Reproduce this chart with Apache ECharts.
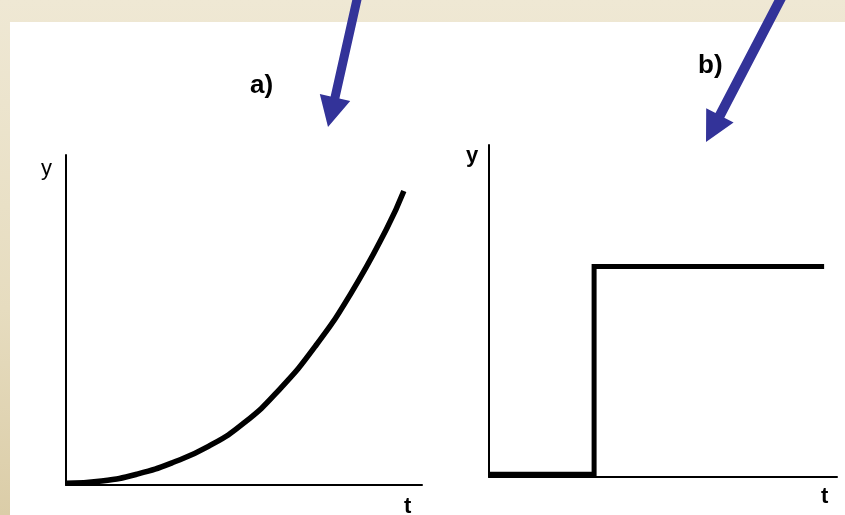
<!DOCTYPE html>
<html>
<head>
<meta charset="utf-8">
<script src="https://cdn.jsdelivr.net/npm/echarts@6/dist/echarts.min.js"></script>
<style>
    html, body { margin: 0; padding: 0; }
    body { width: 845px; height: 515px; position: relative; overflow: hidden;
           background: linear-gradient(to bottom, #efe8d4 0%, #e6dcbf 60%, #dbcda8 100%); }
    #paper { position: absolute; left: 10px; top: 22px; right: 0; bottom: 0; background: #fff; }
    #container { position: absolute; left: 0; top: 0; width: 845px; height: 515px; }
</style>
</head>
<body>
<div id="paper"></div>
<div id="container"></div>
<script type="text/javascript">
    // a) y grows faster and faster with t
    var curveT = [0, 1, 2, 3, 4, 5, 6, 7, 8, 9, 9.49];
    var curveY = [0.05, 0.12, 0.33, 0.68, 1.17, 1.88, 2.9, 4.2, 5.8, 7.75, 8.91];

    // b) step: low, then jumps up at t ~ 3
    var stepT = [0, 3.02, 9.63];
    var stepY = [0.08, 6.34, 6.34];

    var panelLabels = ['a)', 'b)'];
    var axisNames = ['y', 't'];

    function pairs(xs, ys) {
        var out = [];
        for (var i = 0; i < xs.length; i++) out.push([xs[i], ys[i]]);
        return out;
    }

    function axis(gridIndex) {
        return {
            type: 'value', gridIndex: gridIndex, min: 0, max: 10,
            axisLine: { show: true, onZero: false, lineStyle: { color: '#000', width: 2 } },
            axisTick: { show: false }, axisLabel: { show: false }, splitLine: { show: false }
        };
    }

    var arrowColor = '#333399';
    var font = 'Liberation Sans, Arial, sans-serif';

    var dom = document.getElementById('container');
    var myChart = echarts.init(dom, null, { renderer: 'canvas' });

    var option = {
        animation: false,
        backgroundColor: 'transparent',
        grid: [
            { left: 66, top: 155, width: 356, height: 330 },
            { left: 489, top: 145, width: 348, height: 332 }
        ],
        xAxis: [axis(0), axis(1)],
        yAxis: [axis(0), axis(1)],
        series: [
            {
                type: 'line', xAxisIndex: 0, yAxisIndex: 0,
                data: pairs(curveT, curveY),
                smooth: 0.5, symbol: 'none',
                lineStyle: { color: '#000', width: 5.5, cap: 'butt' }
            },
            {
                type: 'line', xAxisIndex: 1, yAxisIndex: 1,
                data: pairs(stepT, stepY),
                step: 'end', symbol: 'none',
                lineStyle: { color: '#000', width: 5, cap: 'butt', join: 'miter' }
            }
        ],
        graphic: [
            // labels
            { type: 'text', left: 250, top: 73, style: { text: panelLabels[0], font: 'bold 26px ' + font, fill: '#000' } },
            { type: 'text', left: 698, top: 53, style: { text: panelLabels[1], font: 'bold 26px ' + font, fill: '#000' } },
            { type: 'text', left: 41, top: 158, style: { text: axisNames[0], font: '22px ' + font, fill: '#000' } },
            { type: 'text', left: 466, top: 145, style: { text: axisNames[0], font: 'bold 22px ' + font, fill: '#000' } },
            { type: 'text', left: 404, top: 496, style: { text: axisNames[1], font: 'bold 22px ' + font, fill: '#000' } },
            { type: 'text', left: 821, top: 486, style: { text: axisNames[1], font: 'bold 22px ' + font, fill: '#000' } },
            // arrows
            {
                type: 'polygon',
                shape: { points: [[362.4, -4], [339.4, 98.5], [350.2, 101], [328, 127], [319.8, 94], [330.6, 96.5], [353.6, -6]] },
                style: { fill: arrowColor }
            },
            {
                type: 'polygon',
                shape: { points: [[787, -2.7], [724.3, 117.7], [733.6, 122.5], [706, 142], [706.2, 108.3], [715.5, 113.1], [778.2, -7.3]] },
                style: { fill: arrowColor }
            }
        ]
    };

    if (option && typeof option === 'object') {
        myChart.setOption(option);
    }
</script>
</body>
</html>
